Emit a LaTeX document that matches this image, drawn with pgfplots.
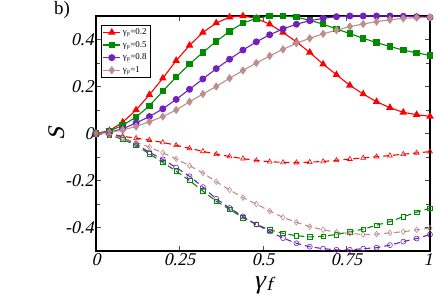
\documentclass[border=0pt]{standalone}
\usepackage{fontspec}
\setmainfont{Liberation Serif}
\newfontfamily\slf{Liberation Serif}[FakeSlant=0.22]
\usepackage{pgfplots}
\usepackage{pgfplotstable}
\pgfplotsset{compat=1.18}
\definecolor{cred}{RGB}{255,0,0}
\definecolor{cgreen}{RGB}{0,139,0}
\definecolor{cpurple}{RGB}{114,33,188}
\definecolor{cbrown}{RGB}{188,143,143}
\pgfplotstableread{
x a b c d e f g h
0.00 0.000 0.000 0.000 0.000 0.000 0.000 0.000 0.000
0.04 0.012 0.010 0.005 0.004 -0.003 -0.006 -0.004 -0.005
0.08 0.048 0.035 0.020 0.015 -0.012 -0.025 -0.018 -0.020
0.12 0.100 0.070 0.045 0.030 -0.020 -0.050 -0.045 -0.038
0.16 0.165 0.118 0.072 0.050 -0.028 -0.087 -0.080 -0.058
0.20 0.235 0.180 0.105 0.072 -0.038 -0.123 -0.110 -0.082
0.24 0.310 0.240 0.145 0.100 -0.050 -0.160 -0.145 -0.108
0.28 0.375 0.295 0.188 0.135 -0.063 -0.200 -0.182 -0.137
0.32 0.430 0.345 0.232 0.168 -0.076 -0.245 -0.228 -0.168
0.36 0.470 0.392 0.276 0.200 -0.088 -0.288 -0.278 -0.205
0.40 0.495 0.435 0.316 0.235 -0.098 -0.323 -0.317 -0.240
0.44 0.500 0.470 0.355 0.268 -0.107 -0.358 -0.353 -0.273
0.48 0.490 0.490 0.390 0.300 -0.115 -0.387 -0.387 -0.300
0.52 0.465 0.500 0.420 0.330 -0.120 -0.410 -0.417 -0.330
0.56 0.430 0.500 0.445 0.358 -0.123 -0.425 -0.445 -0.357
0.60 0.390 0.495 0.465 0.384 -0.124 -0.435 -0.467 -0.378
0.64 0.345 0.482 0.480 0.405 -0.122 -0.440 -0.482 -0.396
0.68 0.295 0.465 0.490 0.424 -0.119 -0.437 -0.490 -0.410
0.72 0.250 0.445 0.497 0.440 -0.114 -0.430 -0.495 -0.420
0.76 0.205 0.425 0.500 0.455 -0.109 -0.418 -0.495 -0.425
0.80 0.168 0.405 0.500 0.466 -0.104 -0.407 -0.490 -0.430
0.84 0.135 0.387 0.500 0.476 -0.099 -0.390 -0.486 -0.428
0.88 0.110 0.370 0.500 0.484 -0.094 -0.375 -0.475 -0.423
0.92 0.090 0.355 0.499 0.490 -0.088 -0.354 -0.460 -0.418
0.96 0.080 0.343 0.497 0.493 -0.083 -0.335 -0.447 -0.410
1.00 0.073 0.332 0.494 0.495 -0.077 -0.318 -0.430 -0.403
}\data
\begin{document}
\begin{tikzpicture}
\useasboundingbox (-96bp,-44bp) rectangle (340bp,251bp);
\begin{axis}[
  at={(0,0)}, anchor=south west,
  scale only axis, width=334bp, height=235bp,
  xmin=0, xmax=1, ymin=-0.5, ymax=0.5,
  xtick={0,0.25,0.5,0.75,1},
  xticklabels={{\slf 0},{\slf 0.25},{\slf 0.5},{\slf 0.75},{\slf\kern-4bp 1}},
  ytick={-0.4,-0.2,0,0.2,0.4},
  yticklabels={{\slf -0.4},{\slf -0.2},{\slf 0},{\slf 0.2},{\slf 0.4}},
  minor ytick={-0.5,-0.3,-0.1,0.1,0.3,0.5},
  tick align=inside,
  major tick length=5bp, minor tick length=4bp,
  tick style={black!70, line width=0.6bp},
  axis line style={line width=1.3bp},
  ticklabel style={font=\fontsize{18}{18}\selectfont},
  xticklabel style={yshift=1bp},
  yticklabel style={xshift=1bp},
  xlabel={\fontsize{26}{26}\selectfont\slf γ\kern1.5bp\raisebox{-0.2ex}{\fontsize{19}{19}\selectfont\slf f}},
  xlabel style={at={(rel axis cs:0.5,-0.145)}, anchor=center},
  ylabel={\fontsize{24}{24}\selectfont\slf S},
  ylabel style={at={(rel axis cs:-0.117,0.5)}, anchor=center},
  clip=false,
  legend style={at={(rel axis cs:0.015,0.962)}, anchor=north west,
    font=\fontsize{9}{10}\selectfont, draw=black, line width=0.5bp,
    inner sep=1.5pt, row sep=1.2pt, cells={anchor=west}},
  legend cell align=left,
]
\addplot[cred, line width=1.1bp, mark=triangle*, mark size=3.3bp] table[x=x,y=a]{\data};
\addlegendentry{γ\textsubscript{p}=0.2}
\addplot[cgreen, line width=1.1bp, mark=square*, mark size=2.7bp] table[x=x,y=b]{\data};
\addlegendentry{γ\textsubscript{p}=0.5}
\addplot[cpurple, line width=1.1bp, mark=*, mark size=2.9bp] table[x=x,y=c]{\data};
\addlegendentry{γ\textsubscript{p}=0.8}
\addplot[cbrown, line width=1.1bp, mark=diamond*, mark size=3.3bp] table[x=x,y=d]{\data};
\addlegendentry{γ\textsubscript{p}=1}
\addplot[cred, line width=1.1bp, dash pattern=on 6bp off 4bp, mark=triangle, mark size=2.8bp, mark options={solid, line width=0.6bp}, forget plot] table[x=x,y=e]{\data};
\addplot[cgreen, line width=1.1bp, dash pattern=on 6bp off 4bp, mark=square, mark size=2.3bp, mark options={solid, line width=0.6bp}, forget plot] table[x=x,y=f]{\data};
\addplot[cpurple, line width=1.1bp, dash pattern=on 6bp off 4bp, mark=o, mark size=2.5bp, mark options={solid, line width=0.6bp}, forget plot] table[x=x,y=g]{\data};
\addplot[cbrown, line width=1.1bp, dash pattern=on 6bp off 4bp, mark=diamond, mark size=2.8bp, mark options={solid, line width=0.6bp}, forget plot] table[x=x,y=h]{\data};
\node[font=\fontsize{19}{19}\selectfont] at (rel axis cs:-0.102,1.026) {b)};
\end{axis}
\end{tikzpicture}
\end{document}
